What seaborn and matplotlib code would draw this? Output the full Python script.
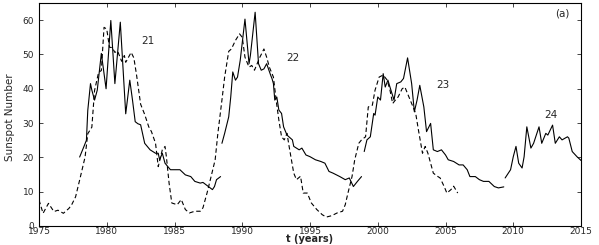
import seaborn as sns
import matplotlib.pyplot as plt
import pandas as pd

# dashed curve (one continuous series)
dash_year = [1975.0, 1975.3, 1975.7, 1976.1, 1976.4, 1976.8, 1977.2, 1977.4, 1977.7, 1978.0,
             1978.4, 1978.6, 1978.9, 1979.1, 1979.4, 1979.6, 1979.8, 1980.0, 1980.2, 1980.4,
             1980.6, 1980.8, 1981.1, 1981.3, 1981.4, 1981.8, 1982.0, 1982.2, 1982.5, 1982.8,
             1983.1, 1983.3, 1983.6, 1983.8, 1984.1, 1984.3, 1984.4, 1984.6, 1984.8, 1985.2,
             1985.5, 1985.8, 1986.1, 1986.5, 1986.9, 1987.1, 1987.4, 1987.7, 1988.0, 1988.2,
             1988.5, 1988.7, 1989.0, 1989.2, 1989.5, 1989.8, 1990.0, 1990.2, 1990.5, 1990.7,
             1990.9, 1991.3, 1991.6, 1991.8, 1992.0, 1992.3, 1992.5, 1992.7, 1992.9, 1993.1,
             1993.3, 1993.5, 1993.8, 1994.0, 1994.3, 1994.5, 1994.8, 1995.1, 1995.5, 1995.9,
             1996.2, 1996.6, 1997.0, 1997.4, 1997.6, 1997.8, 1998.1, 1998.3, 1998.6, 1998.8,
             1999.1, 1999.3, 1999.6, 1999.8, 2000.1, 2000.4, 2000.7, 2000.9, 2001.1, 2001.3,
             2001.5, 2001.8, 2002.0, 2002.3, 2002.5, 2002.8, 2003.0, 2003.3, 2003.5, 2003.7,
             2003.9, 2004.1, 2004.4, 2004.6, 2004.9, 2005.1, 2005.4, 2005.6, 2005.9]
dash_val = [7.6, 3.7, 6.6, 4.2, 4.6, 3.7, 5.1, 6.1, 8.5, 13.4,
            20.1, 26.9, 28.8, 39.5, 44.8, 45.3, 57.9, 57.4, 52.1, 52.0,
            50.6, 51.0, 48.0, 49.7, 47.7, 50.6, 49.0, 44.0, 35.5, 32.5,
            28.9, 27.5, 24.1, 17.3, 22.2, 23.2, 20.2, 12.5, 6.7, 6.2,
            7.7, 4.8, 3.8, 4.3, 4.3, 5.3, 9.6, 14.4, 19.3, 27.0,
            36.7, 43.4, 50.9, 51.6, 54.1, 56.0, 55.0, 49.2, 46.3, 46.8,
            45.4, 49.2, 51.6, 49.2, 46.3, 43.4, 36.7, 30.9, 26.0, 25.1,
            27.0, 22.2, 15.4, 13.5, 14.5, 9.6, 9.6, 6.7, 4.8, 3.3,
            2.6, 3.0, 3.8, 4.3, 6.2, 9.6, 14.4, 19.3, 24.1, 25.1,
            26.0, 34.7, 35.2, 39.6, 43.4, 44.0, 42.5, 39.6, 35.7, 36.7,
            37.6, 40.0, 40.5, 37.6, 35.7, 32.8, 28.0, 21.2, 23.2, 21.2,
            18.3, 15.4, 14.5, 14.0, 11.5, 9.6, 10.6, 11.6, 9.6]

# solid curve, four separate pieces
solid1_year = [1978.0, 1978.3, 1978.5, 1978.6, 1978.8, 1978.9, 1979.1, 1979.3, 1979.6, 1979.95,
               1980.3, 1980.6, 1981.0, 1981.4, 1981.7, 1981.9, 1982.1, 1982.3, 1982.5, 1982.8,
               1983.2, 1983.6, 1983.8, 1983.9, 1984.1, 1984.3, 1984.7, 1985.0, 1985.4, 1985.8,
               1986.2, 1986.5, 1986.9, 1987.1, 1987.5, 1987.8, 1987.95, 1988.1, 1988.4]
solid1_val = [20.1, 23.0, 25.0, 33.7, 41.5, 39.6, 36.7, 39.6, 50.3, 40.0,
              59.9, 41.5, 59.4, 32.7, 42.5, 36.7, 30.4, 29.8, 29.5, 24.1,
              22.2, 21.2, 21.2, 19.3, 21.2, 18.3, 16.4, 16.4, 16.4, 14.9,
              14.4, 13.0, 12.5, 12.7, 11.5, 10.6, 11.5, 13.5, 14.4]
solid2_year = [1988.5, 1988.7, 1989.0, 1989.15, 1989.3, 1989.5, 1989.65, 1989.85, 1990.2, 1990.5,
               1990.6, 1990.95, 1991.2, 1991.4, 1991.6, 1991.8, 1992.1, 1992.2, 1992.3, 1992.4,
               1992.55, 1992.7, 1992.9, 1993.05, 1993.3, 1993.7, 1993.8, 1994.2, 1994.4, 1994.7,
               1995.0, 1995.4, 1995.8, 1996.1, 1996.4, 1996.7, 1997.2, 1997.6, 1997.9, 1998.2,
               1998.5, 1998.8]
solid2_val = [24.1, 27.0, 31.8, 37.6, 44.9, 42.5, 43.4, 48.3, 60.3, 47.3,
              49.7, 62.3, 47.3, 45.4, 45.8, 47.3, 43.9, 42.9, 41.5, 36.7,
              37.6, 33.8, 32.8, 28.9, 26.5, 25.1, 23.2, 22.2, 22.7, 20.7,
              20.2, 19.3, 18.8, 18.3, 15.9, 15.4, 14.4, 13.5, 14.0, 11.5,
              13.0, 14.4]
solid3_year = [1999.0, 1999.2, 1999.45, 1999.7, 1999.8, 2000.0, 2000.2, 2000.4, 2000.55, 2000.75,
               2000.9, 2001.2, 2001.4, 2001.7, 2001.9, 2002.2, 2002.5, 2002.7, 2002.9, 2003.1,
               2003.4, 2003.6, 2003.9, 2004.1, 2004.4, 2004.7, 2005.0, 2005.2, 2005.6, 2006.0,
               2006.3, 2006.6, 2006.8, 2007.2, 2007.5, 2007.8, 2008.2, 2008.6, 2008.9, 2009.3]
solid3_val = [21.7, 25.1, 26.0, 32.8, 32.3, 37.6, 36.7, 44.4, 40.5, 42.5,
              40.5, 36.7, 41.5, 42.0, 43.0, 49.0, 41.5, 33.3, 36.7, 41.0,
              34.7, 27.5, 29.9, 22.2, 21.7, 22.2, 20.7, 19.3, 18.8, 17.8,
              17.8, 16.4, 14.4, 14.4, 13.5, 13.0, 13.0, 11.5, 11.1, 11.4]
solid4_year = [2009.4, 2009.8, 2010.0, 2010.2, 2010.4, 2010.65, 2010.8, 2011.0, 2011.3, 2011.5,
               2011.9, 2012.1, 2012.4, 2012.55, 2012.9, 2013.1, 2013.4, 2013.6, 2014.0, 2014.1,
               2014.35, 2014.7, 2015.0]
solid4_val = [14.0, 16.4, 20.2, 23.2, 18.3, 16.9, 20.2, 28.9, 22.7, 24.1,
              28.9, 24.1, 27.0, 26.5, 29.4, 24.1, 26.0, 25.1, 26.0, 25.6,
              21.7, 20.2, 19.1]

cycle_labels = ['21', '22', '23', '24']
cycle_pos = [(1983.0, 54.0), (1993.7, 49.0), (2004.8, 41.0), (2012.8, 32.3)]

sns.set_theme(style='white')
plt.rcParams['font.family'] = ['DejaVu Sans']

fig = plt.figure(figsize=(5.99, 2.45), dpi=100)
ax = fig.add_axes([0.0651, 0.0776, 0.9049, 0.9102])

dash = pd.DataFrame({'year': dash_year, 'val': dash_val})
sns.lineplot(data=dash, x='year', y='val', ax=ax, color='black', lw=0.8,
             linestyle=(0, (4, 2.5)), estimator=None, sort=False)

for yrs, vals in [(solid1_year, solid1_val), (solid2_year, solid2_val),
                  (solid3_year, solid3_val), (solid4_year, solid4_val)]:
    seg = pd.DataFrame({'year': yrs, 'val': vals})
    sns.lineplot(data=seg, x='year', y='val', ax=ax, color='black', lw=0.8,
                 estimator=None, sort=False)

for lab, (x, y) in zip(cycle_labels, cycle_pos):
    ax.text(x, y, lab, fontsize=7.5, ha='center', va='center')
ax.text(2013.6, 62.0, '(a)', fontsize=7.5, ha='center', va='center')

ax.set_xlim(1975, 2015)
ax.set_ylim(0, 65)
ax.set_xticks(range(1975, 2016, 5))
ax.set_yticks(range(0, 61, 10))
ax.tick_params(direction='in', length=3, width=0.6, labelsize=6.5,
               top=True, right=True, bottom=True, left=True)
ax.tick_params(axis='x', pad=1)
ax.tick_params(axis='y', pad=3.5)
for s in ax.spines.values():
    s.set_linewidth(0.8)
    s.set_color('black')
ax.set_xlabel('t (years)', fontsize=7, fontweight='bold')
ax.xaxis.set_label_coords(0.5, -0.036)
ax.set_ylabel('Sunspot Number', fontsize=7.5,
              family=['Liberation Sans Narrow', 'DejaVu Sans'])
ax.yaxis.set_label_coords(-0.044, 0.49)

fig.savefig('out.png', dpi=100)
